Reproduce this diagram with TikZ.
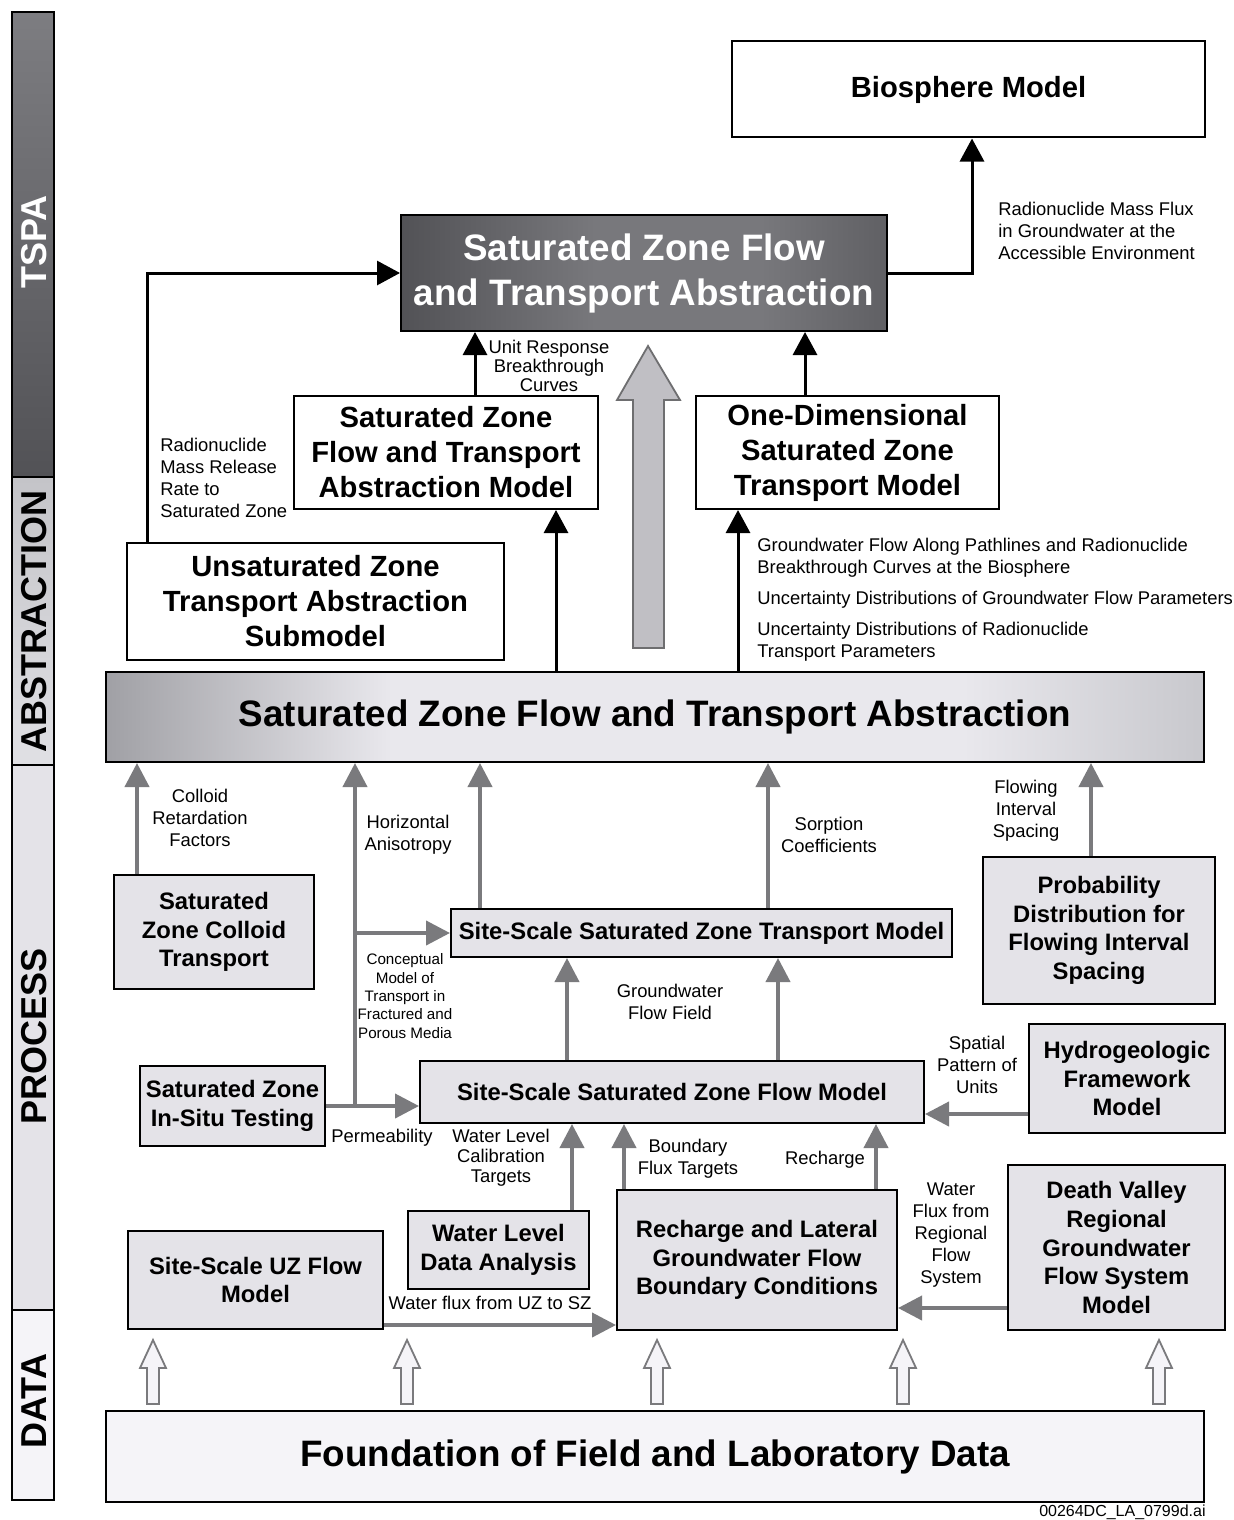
\documentclass[tikz,border=0pt]{standalone}
\usepackage{fontspec}
\setmainfont{Liberation Sans}
\usetikzlibrary{arrows.meta,calc}
\definecolor{procfill}{RGB}{228,227,232}
\definecolor{datafill}{RGB}{245,244,248}
\definecolor{garrow}{RGB}{122,122,125}
\definecolor{bigarrowfill}{RGB}{192,191,196}
\definecolor{bigarrowline}{RGB}{110,110,112}
\definecolor{darkL}{RGB}{82,82,86}
\definecolor{darkM}{RGB}{120,120,124}
\definecolor{darkR}{RGB}{96,96,100}
\definecolor{barL}{RGB}{160,160,165}
\definecolor{barM}{RGB}{233,232,237}
\definecolor{barR}{RGB}{200,200,205}
\definecolor{tspaT}{RGB}{125,125,129}
\definecolor{tspaB}{RGB}{82,82,86}
\definecolor{abT}{RGB}{196,196,200}
\definecolor{abB}{RGB}{224,224,228}
\pgfdeclarehorizontalshading{barshade}{100bp}{color(0bp)=(barL); color(25bp)=(barL); color(38bp)=(barM); color(64bp)=(barM); color(75bp)=(barR); color(100bp)=(barR)}
\pgfdeclarehorizontalshading{darkshade}{100bp}{color(0bp)=(darkL); color(25bp)=(darkL); color(45bp)=(darkM); color(62bp)=(darkM); color(75bp)=(darkR); color(100bp)=(darkR)}
\newcommand\myTopFont{\fontsize{18.4}{22.5}\bfseries\selectfont}
\newcommand\myAbsFont{\fontsize{14.6}{17.5}\bfseries\selectfont}
\newcommand\myProcFont{\fontsize{11.9}{14.3}\bfseries\selectfont}
\newcommand\myLabFont{\fontsize{9.2}{11}\selectfont}
\newcommand\mySmallFont{\fontsize{7.6}{9.2}\selectfont}
\newcommand\mySideFont{\fontsize{18}{20}\bfseries\selectfont}
\begin{document}
\begin{tikzpicture}[x=0.5pt,y=-0.5pt,
  absbox/.style={draw=black, line width=1pt, fill=white, inner sep=0pt, align=center, font=\myAbsFont},
  procbox/.style={draw=black, line width=1pt, fill=procfill, inner sep=0pt, align=center, font=\myProcFont},
  lab/.style={inner sep=0pt, align=center, font=\myLabFont},
  labl/.style={inner sep=0pt, align=left, anchor=west, font=\myLabFont},
  blk/.style={draw=black, line width=1.5pt, -{Triangle[length=11.5pt,width=12pt]}},
  gry/.style={draw=garrow, line width=2pt, -{Triangle[length=12pt,width=12pt]}},
  hollow/.style={draw=garrow, line width=0.9pt, fill=datafill},
  side/.style={inner sep=0pt, rotate=90, font=\mySideFont}]
\useasboundingbox (0,0) rectangle (1234,1520);
\fill[white] (0,0) rectangle (1234,1520);

% sidebar
\path[draw=black, line width=0.9pt, top color=tspaT, bottom color=tspaB] (12,12) rectangle (54,477);
\path[draw=black, line width=0.9pt, top color=abT, bottom color=abB] (12,477) rectangle (54,765);
\path[draw=black, line width=0.9pt, fill=procfill] (12,765) rectangle (54,1310);
\path[draw=black, line width=0.9pt, fill=datafill] (12,1310) rectangle (54,1500);
\node[side, text=white] (sTSPA) at (34,242) {TSPA};
\node[side] (sABS) at (34,621) {ABSTRACTION};
\node[side] (sPROC) at (34,1036) {PROCESS};
\node[side] (sDATA) at (34,1401) {DATA};

% x / y helper coordinates
\foreach \v in {137,147,355,475,480,556,567,572,624,738,768,778,805,876,972,1091}
  \coordinate (x\v) at (\v,0);
\foreach \v in {1114,1308,1325}
  \coordinate (y\v) at (0,\v);

% top level
\node[absbox, minimum width=236.5pt, minimum height=48pt] (bio) at (968.5,89.5) {Biosphere Model};
\node[draw=black, line width=1pt, shading=darkshade,
      text=white, inner sep=0pt, align=center, font=\myTopFont,
      minimum width=243pt, minimum height=58pt] (top) at (644,273)
      {Saturated Zone Flow\\and Transport Abstraction};
\node[absbox, minimum width=152pt, minimum height=56.5pt] (szftam) at (446,452.5)
      {Saturated Zone\\Flow and Transport\\Abstraction Model};
\node[absbox, minimum width=151.5pt, minimum height=56.5pt] (oned) at (847.5,452.5)
      {One-Dimensional\\Saturated Zone\\Transport Model};
\node[absbox, minimum width=188.5pt, minimum height=58.5pt] (uz) at (315.5,601.5)
      {Unsaturated Zone\\Transport Abstraction\\Submodel};

% big grey arrow
\draw[draw=bigarrowline, line width=0.9pt, fill=bigarrowfill]
  (633,648) -- (633,400) -- (617,400) -- (648,346) -- (680,400) -- (664,400) -- (664,648) -- cycle;

% abstraction bar
\node[draw=black, line width=1pt, shading=barshade,
      inner sep=0pt, font=\myTopFont, minimum width=549pt, minimum height=45pt] (bar) at (655,717)
      {Saturated Zone Flow and Transport Abstraction};

% process boxes
\node[procbox, minimum width=100pt, minimum height=57pt] (colloid) at (214,932)
      {Saturated\\Zone Colloid\\Transport};
\node[procbox, minimum width=250.5pt, minimum height=24pt] (sstm) at (701.5,933)
      {Site-Scale Saturated Zone Transport Model};
\node[procbox, minimum width=116pt, minimum height=73.5pt] (prob) at (1099,930.5)
      {Probability\\Distribution for\\Flowing Interval\\Spacing};
\node[procbox, minimum width=92.5pt, minimum height=40pt] (insitu) at (232.5,1106)
      {Saturated Zone\\In-Situ Testing};
\node[procbox, minimum width=252pt, minimum height=31pt] (ssfm) at (672,1092)
      {Site-Scale Saturated Zone Flow Model};
\node[procbox, minimum width=98pt, minimum height=54.5pt] (hfm) at (1127,1078.5)
      {Hydrogeologic\\Framework\\Model};
\node[procbox, minimum width=127.5pt, minimum height=49pt] (uzflow) at (255.5,1280)
      {Site-Scale UZ Flow\\Model};
\node[procbox, minimum width=90.5pt, minimum height=39pt] (wlda) at (498.5,1250)
      {Water Level\\Data Analysis};
\node[procbox, minimum width=140pt, minimum height=70pt] (rech) at (757,1260)
      {Recharge and Lateral\\Groundwater Flow\\Boundary Conditions};
\node[procbox, minimum width=108.5pt, minimum height=82.5pt] (dv) at (1116.5,1247.5)
      {Death Valley\\Regional\\Groundwater\\Flow System\\Model};

% foundation
\node[draw=black, line width=1pt, fill=datafill, inner sep=0pt, font=\myTopFont,
      minimum width=549pt, minimum height=45.5pt] (found) at (655,1456.5)
      {Foundation of Field and Laboratory Data};

% hollow arrows
\foreach \x in {153,407,657,903,1159}
  \draw[hollow] (\x-6,1404) -- (\x-6,1368) -- (\x-13,1368) -- (\x,1340) -- (\x+13,1368) -- (\x+6,1368) -- (\x+6,1404) -- cycle;

% black connectors
\draw[blk] (uz.north -| x147) |- (top.west);
\draw[blk] (top.east) -| (bio.south -| x972);
\draw[blk] (szftam.north -| x475) -- (top.south -| x475);
\draw[blk] (oned.north -| x805) -- (top.south -| x805);
\draw[blk] (bar.north -| x556) -- (szftam.south -| x556);
\draw[blk] (bar.north -| x738) -- (oned.south -| x738);

% grey connectors
\draw[gry] (colloid.north -| x137) -- (bar.south -| x137);
\draw[gry] (insitu.east) -- (ssfm.west |- insitu.east);
\draw[gry] (x355 |- insitu.east) -- (bar.south -| x355);
\draw[gry] (x355 |- sstm.west) -- (sstm.west);
\draw[gry] (sstm.north -| x480) -- (bar.south -| x480);
\draw[gry] (sstm.north -| x768) -- (bar.south -| x768);
\draw[gry] (prob.north -| x1091) -- (bar.south -| x1091);
\draw[gry] (ssfm.north -| x567) -- (sstm.south -| x567);
\draw[gry] (ssfm.north -| x778) -- (sstm.south -| x778);
\draw[gry] (hfm.west |- y1114) -- (ssfm.east |- y1114);
\draw[gry] (wlda.north -| x572) -- (ssfm.south -| x572);
\draw[gry] (rech.north -| x624) -- (ssfm.south -| x624);
\draw[gry] (rech.north -| x876) -- (ssfm.south -| x876);
\draw[gry] (uzflow.east |- y1325) -- (rech.west |- y1325);
\draw[gry] (dv.west |- y1308) -- (rech.east |- y1308);

% labels
\node[labl] (lflux) at (998,231) {Radionuclide Mass Flux\\in Groundwater at the\\Accessible Environment};
\node[lab, font=\fontsize{9.2}{9.5}\selectfont] (lunit) at (549,366) {Unit Response\\Breakthrough\\Curves};
\node[labl] (lrel) at (160,478) {Radionuclide\\Mass Release\\Rate to\\Saturated Zone};
\node[labl] (lgw) at (757,558) {Groundwater Flow Along Pathlines and Radionuclide\\Breakthrough Curves at the Biosphere};
\node[labl] (lunc1) at (757,600) {Uncertainty Distributions of Groundwater Flow Parameters};
\node[labl] (lunc2) at (757,642) {Uncertainty Distributions of Radionuclide\\Transport Parameters};
\node[lab] (lcol) at (200,818) {Colloid\\Retardation\\Factors};
\node[lab] (lhor) at (408,835) {Horizontal\\Anisotropy};
\node[lab] (lsorp) at (829,835) {Sorption\\Coefficients};
\node[lab] (lflow) at (1026,811) {Flowing\\Interval\\Spacing};
\node[lab, font=\mySmallFont] (lconc) at (405,996) {Conceptual\\Model of\\Transport in\\Fractured and\\Porous Media};
\node[lab] (lgwf) at (670,1002) {Groundwater\\Flow Field};
\node[lab] (lspat) at (977,1065) {Spatial\\Pattern of\\Units};
\node[lab] (lperm) at (382,1138) {Permeability};
\node[lab, font=\fontsize{9.2}{10}\selectfont] (lwl) at (501,1158) {Water Level\\Calibration\\Targets};
\node[lab] (lbft) at (688,1159) {Boundary\\Flux Targets};
\node[lab] (lrech) at (825,1160) {Recharge};
\node[lab] (lwf) at (951,1235) {Water\\Flux from\\Regional\\Flow\\System};
\node[lab] (luzsz) at (490,1303) {Water flux from UZ to SZ};
\node[inner sep=0pt, anchor=east, font=\fontsize{8}{9}\selectfont] (foot) at (1206,1512) {00264DC\_LA\_0799d.ai};
\end{tikzpicture}
\end{document}
